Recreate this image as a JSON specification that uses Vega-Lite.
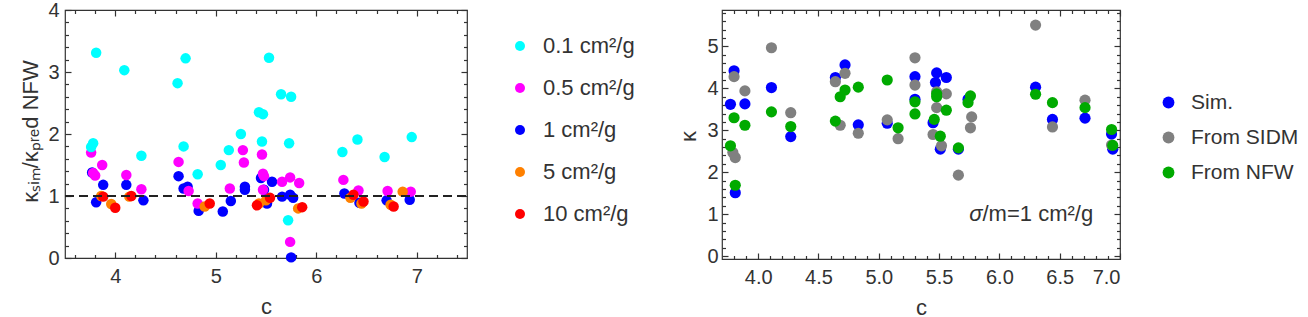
{
  "$schema": "https://vega.github.io/schema/vega-lite/v6.json",
  "background": "white",
  "padding": {"left": 18, "top": -1, "right": 0, "bottom": 0},
  "config": {
    "font": "Liberation Sans",
    "view": {"stroke": "#333", "strokeWidth": 1.2},
    "axis": {"labelFontSize": 20, "labelColor": "#333", "titleFontSize": 22, "titleColor": "#333", "titleFontWeight": "normal", "grid": false, "domain": false, "tickColor": "#333", "tickWidth": 1.2},
    "legend": {"labelFontSize": 21, "labelColor": "#333"}
  },
  "datasets": {
    "left": [
      {"c":3.77,"r":1.38,"s":"1 cm²/g"},{"c":3.81,"r":0.90,"s":"1 cm²/g"},{"c":3.88,"r":1.18,"s":"1 cm²/g"},{"c":4.11,"r":1.18,"s":"1 cm²/g"},{"c":4.28,"r":0.93,"s":"1 cm²/g"},{"c":4.63,"r":1.32,"s":"1 cm²/g"},{"c":4.68,"r":1.12,"s":"1 cm²/g"},{"c":4.72,"r":1.15,"s":"1 cm²/g"},{"c":4.83,"r":0.76,"s":"1 cm²/g"},{"c":5.07,"r":0.75,"s":"1 cm²/g"},{"c":5.15,"r":0.92,"s":"1 cm²/g"},{"c":5.29,"r":1.15,"s":"1 cm²/g"},{"c":5.29,"r":1.10,"s":"1 cm²/g"},{"c":5.45,"r":1.29,"s":"1 cm²/g"},{"c":5.48,"r":1.10,"s":"1 cm²/g"},{"c":5.51,"r":0.88,"s":"1 cm²/g"},{"c":5.56,"r":1.23,"s":"1 cm²/g"},{"c":5.66,"r":0.99,"s":"1 cm²/g"},{"c":5.74,"r":1.02,"s":"1 cm²/g"},{"c":5.77,"r":0.97,"s":"1 cm²/g"},{"c":5.75,"r":0.01,"s":"1 cm²/g"},{"c":6.28,"r":1.04,"s":"1 cm²/g"},{"c":6.43,"r":0.89,"s":"1 cm²/g"},{"c":6.70,"r":0.93,"s":"1 cm²/g"},{"c":6.93,"r":0.94,"s":"1 cm²/g"},
      {"c":3.76,"r":1.70,"s":"0.5 cm²/g"},{"c":3.78,"r":1.37,"s":"0.5 cm²/g"},{"c":3.80,"r":1.33,"s":"0.5 cm²/g"},{"c":3.87,"r":1.50,"s":"0.5 cm²/g"},{"c":4.11,"r":1.34,"s":"0.5 cm²/g"},{"c":4.26,"r":1.11,"s":"0.5 cm²/g"},{"c":4.63,"r":1.55,"s":"0.5 cm²/g"},{"c":4.73,"r":1.08,"s":"0.5 cm²/g"},{"c":4.82,"r":0.88,"s":"0.5 cm²/g"},{"c":5.14,"r":1.12,"s":"0.5 cm²/g"},{"c":5.27,"r":1.74,"s":"0.5 cm²/g"},{"c":5.28,"r":1.54,"s":"0.5 cm²/g"},{"c":5.46,"r":1.67,"s":"0.5 cm²/g"},{"c":5.47,"r":1.36,"s":"0.5 cm²/g"},{"c":5.48,"r":1.32,"s":"0.5 cm²/g"},{"c":5.47,"r":1.10,"s":"0.5 cm²/g"},{"c":5.66,"r":1.23,"s":"0.5 cm²/g"},{"c":5.74,"r":1.30,"s":"0.5 cm²/g"},{"c":5.83,"r":1.21,"s":"0.5 cm²/g"},{"c":5.74,"r":0.26,"s":"0.5 cm²/g"},{"c":6.27,"r":1.26,"s":"0.5 cm²/g"},{"c":6.42,"r":1.09,"s":"0.5 cm²/g"},{"c":6.71,"r":1.08,"s":"0.5 cm²/g"},{"c":6.94,"r":1.07,"s":"0.5 cm²/g"},
      {"c":3.76,"r":1.79,"s":"0.1 cm²/g"},{"c":3.78,"r":1.85,"s":"0.1 cm²/g"},{"c":3.81,"r":3.31,"s":"0.1 cm²/g"},{"c":4.09,"r":3.03,"s":"0.1 cm²/g"},{"c":4.26,"r":1.65,"s":"0.1 cm²/g"},{"c":4.62,"r":2.82,"s":"0.1 cm²/g"},{"c":4.68,"r":1.80,"s":"0.1 cm²/g"},{"c":4.70,"r":3.22,"s":"0.1 cm²/g"},{"c":4.82,"r":1.35,"s":"0.1 cm²/g"},{"c":5.05,"r":1.50,"s":"0.1 cm²/g"},{"c":5.13,"r":1.74,"s":"0.1 cm²/g"},{"c":5.25,"r":2.00,"s":"0.1 cm²/g"},{"c":5.43,"r":2.35,"s":"0.1 cm²/g"},{"c":5.46,"r":1.88,"s":"0.1 cm²/g"},{"c":5.47,"r":2.32,"s":"0.1 cm²/g"},{"c":5.53,"r":3.23,"s":"0.1 cm²/g"},{"c":5.65,"r":2.64,"s":"0.1 cm²/g"},{"c":5.72,"r":0.61,"s":"0.1 cm²/g"},{"c":5.73,"r":1.85,"s":"0.1 cm²/g"},{"c":5.75,"r":2.60,"s":"0.1 cm²/g"},{"c":6.26,"r":1.71,"s":"0.1 cm²/g"},{"c":6.41,"r":1.91,"s":"0.1 cm²/g"},{"c":6.68,"r":1.63,"s":"0.1 cm²/g"},{"c":6.95,"r":1.95,"s":"0.1 cm²/g"},
      {"c":3.86,"r":1.00,"s":"5 cm²/g"},{"c":3.96,"r":0.87,"s":"5 cm²/g"},{"c":4.14,"r":0.99,"s":"5 cm²/g"},{"c":4.89,"r":0.83,"s":"5 cm²/g"},{"c":5.43,"r":0.88,"s":"5 cm²/g"},{"c":5.50,"r":0.93,"s":"5 cm²/g"},{"c":5.82,"r":0.80,"s":"5 cm²/g"},{"c":6.34,"r":0.97,"s":"5 cm²/g"},{"c":6.45,"r":0.88,"s":"5 cm²/g"},{"c":6.74,"r":0.86,"s":"5 cm²/g"},{"c":6.86,"r":1.07,"s":"5 cm²/g"},
      {"c":3.88,"r":0.99,"s":"10 cm²/g"},{"c":4.00,"r":0.81,"s":"10 cm²/g"},{"c":4.16,"r":1.00,"s":"10 cm²/g"},{"c":4.94,"r":0.88,"s":"10 cm²/g"},{"c":5.41,"r":0.85,"s":"10 cm²/g"},{"c":5.54,"r":0.97,"s":"10 cm²/g"},{"c":5.86,"r":0.82,"s":"10 cm²/g"},{"c":6.37,"r":1.02,"s":"10 cm²/g"},{"c":6.47,"r":0.91,"s":"10 cm²/g"},{"c":6.77,"r":0.83,"s":"10 cm²/g"}
    ],
    "right": [
      {"c":3.77,"k":3.62,"s":"Sim."},{"c":3.80,"k":4.42,"s":"Sim."},{"c":3.81,"k":1.51,"s":"Sim."},{"c":3.89,"k":3.63,"s":"Sim."},{"c":4.11,"k":4.02,"s":"Sim."},{"c":4.27,"k":2.85,"s":"Sim."},{"c":4.64,"k":4.26,"s":"Sim."},{"c":4.72,"k":4.56,"s":"Sim."},{"c":4.83,"k":3.13,"s":"Sim."},{"c":5.07,"k":3.17,"s":"Sim."},{"c":5.30,"k":4.28,"s":"Sim."},{"c":5.30,"k":3.74,"s":"Sim."},{"c":5.45,"k":3.18,"s":"Sim."},{"c":5.48,"k":4.37,"s":"Sim."},{"c":5.47,"k":4.14,"s":"Sim."},{"c":5.51,"k":2.55,"s":"Sim."},{"c":5.56,"k":4.26,"s":"Sim."},{"c":5.66,"k":2.55,"s":"Sim."},{"c":5.74,"k":3.74,"s":"Sim."},{"c":6.30,"k":4.03,"s":"Sim."},{"c":6.44,"k":3.26,"s":"Sim."},{"c":6.71,"k":3.29,"s":"Sim."},{"c":6.93,"k":2.91,"s":"Sim."},{"c":6.94,"k":2.55,"s":"Sim."},
      {"c":3.79,"k":2.47,"s":"From SIDM"},{"c":3.80,"k":4.28,"s":"From SIDM"},{"c":3.81,"k":2.35,"s":"From SIDM"},{"c":3.89,"k":3.94,"s":"From SIDM"},{"c":4.11,"k":4.97,"s":"From SIDM"},{"c":4.27,"k":3.42,"s":"From SIDM"},{"c":4.64,"k":4.16,"s":"From SIDM"},{"c":4.68,"k":3.12,"s":"From SIDM"},{"c":4.72,"k":4.36,"s":"From SIDM"},{"c":4.83,"k":2.93,"s":"From SIDM"},{"c":5.07,"k":3.25,"s":"From SIDM"},{"c":5.16,"k":2.80,"s":"From SIDM"},{"c":5.30,"k":4.73,"s":"From SIDM"},{"c":5.30,"k":4.08,"s":"From SIDM"},{"c":5.45,"k":2.90,"s":"From SIDM"},{"c":5.48,"k":3.54,"s":"From SIDM"},{"c":5.48,"k":3.92,"s":"From SIDM"},{"c":5.52,"k":2.63,"s":"From SIDM"},{"c":5.56,"k":3.87,"s":"From SIDM"},{"c":5.66,"k":1.93,"s":"From SIDM"},{"c":5.77,"k":3.32,"s":"From SIDM"},{"c":5.76,"k":3.06,"s":"From SIDM"},{"c":6.30,"k":5.51,"s":"From SIDM"},{"c":6.44,"k":3.08,"s":"From SIDM"},{"c":6.71,"k":3.72,"s":"From SIDM"},{"c":6.93,"k":2.65,"s":"From SIDM"},
      {"c":3.77,"k":2.63,"s":"From NFW"},{"c":3.80,"k":3.30,"s":"From NFW"},{"c":3.81,"k":1.69,"s":"From NFW"},{"c":3.89,"k":3.12,"s":"From NFW"},{"c":4.11,"k":3.44,"s":"From NFW"},{"c":4.27,"k":3.09,"s":"From NFW"},{"c":4.64,"k":3.22,"s":"From NFW"},{"c":4.68,"k":3.80,"s":"From NFW"},{"c":4.72,"k":3.96,"s":"From NFW"},{"c":4.83,"k":4.03,"s":"From NFW"},{"c":5.07,"k":4.20,"s":"From NFW"},{"c":5.16,"k":3.06,"s":"From NFW"},{"c":5.30,"k":3.68,"s":"From NFW"},{"c":5.30,"k":3.39,"s":"From NFW"},{"c":5.46,"k":3.26,"s":"From NFW"},{"c":5.48,"k":3.87,"s":"From NFW"},{"c":5.48,"k":3.80,"s":"From NFW"},{"c":5.51,"k":2.86,"s":"From NFW"},{"c":5.56,"k":3.48,"s":"From NFW"},{"c":5.66,"k":2.58,"s":"From NFW"},{"c":5.76,"k":3.82,"s":"From NFW"},{"c":5.74,"k":3.66,"s":"From NFW"},{"c":6.30,"k":3.86,"s":"From NFW"},{"c":6.44,"k":3.66,"s":"From NFW"},{"c":6.71,"k":3.54,"s":"From NFW"},{"c":6.93,"k":3.02,"s":"From NFW"},{"c":6.94,"k":2.64,"s":"From NFW"}
    ]
  },
  "spacing": 40,
  "resolve": {"scale": {"color": "independent"}, "legend": {"color": "independent"}},
  "hconcat": [
    {
      "width": 402,
      "height": 248,
      "view": {"stroke": "#333", "strokeWidth": 1.2},
      "layer": [
        {
          "data": {"name": "left"},
          "mark": {"type": "circle", "size": 110, "opacity": 1},
          "encoding": {
            "x": {"field": "c", "type": "quantitative", "scale": {"domain": [3.5, 7.5], "nice": false, "zero": false},
              "axis": {"orient": "bottom", "values": [4, 5, 6, 7], "tickSize": -6, "labelPadding": 14, "title": "c", "titlePadding": 10}},
            "y": {"field": "r", "type": "quantitative", "scale": {"domain": [0, 4], "nice": false},
              "axis": {"orient": "left", "values": [0, 1, 2, 3, 4], "tickSize": -6, "labelPadding": 12, "title": "κₛᵢₘ/κₚᵣₑd NFW", "titleX": -35, "titleY": 121, "titleAngle": 270, "titleAlign": "center", "titleBaseline": "middle"}},
            "color": {"field": "s", "type": "nominal",
              "scale": {"domain": ["0.1 cm²/g", "0.5 cm²/g", "1 cm²/g", "5 cm²/g", "10 cm²/g"], "range": ["#00FFFF", "#FF00FF", "#0000FF", "#FF8000", "#FF0000"]},
              "legend": {"title": null, "orient": "none", "legendX": 444, "legendY": 25, "symbolType": "circle", "symbolSize": 100, "symbolStrokeWidth": 0, "rowPadding": 20, "labelOffset": 12, "labelFontSize": 22}}
          }
        },
        {
          "data": {"values": [{}]},
          "mark": {"type": "rule", "strokeDash": [9, 5], "strokeWidth": 2, "color": "#222"},
          "encoding": {
            "x": {"datum": 3.5, "type": "quantitative", "axis": {"orient": "top", "values": [4, 5, 6, 7], "tickSize": -6, "labels": false, "title": null}},
            "x2": {"datum": 7.5},
            "y": {"datum": 1, "type": "quantitative", "axis": {"orient": "right", "values": [0, 1, 2, 3, 4], "tickSize": -6, "labels": false, "title": null}}
          }
        },
        {
          "data": {"values": [{}]},
          "mark": {"type": "text", "text": ""},
          "encoding": {
            "x": {"datum": 4, "type": "quantitative", "axis": {"orient": "bottom", "values": [3.6,3.8,4.2,4.4,4.6,4.8,5.2,5.4,5.6,5.8,6.2,6.4,6.6,6.8,7.2,7.4], "tickSize": -3.5, "labels": false, "title": null}},
            "y": {"datum": 1, "type": "quantitative", "axis": {"orient": "left", "values": [0.2,0.4,0.6,0.8,1.2,1.4,1.6,1.8,2.2,2.4,2.6,2.8,3.2,3.4,3.6,3.8], "tickSize": -3.5, "labels": false, "title": null}}
          }
        },
        {
          "data": {"values": [{}]},
          "mark": {"type": "text", "text": ""},
          "encoding": {
            "x": {"datum": 4, "type": "quantitative", "axis": {"orient": "top", "values": [3.6,3.8,4.2,4.4,4.6,4.8,5.2,5.4,5.6,5.8,6.2,6.4,6.6,6.8,7.2,7.4], "tickSize": -3.5, "labels": false, "title": null}},
            "y": {"datum": 1, "type": "quantitative", "axis": {"orient": "right", "values": [0.2,0.4,0.6,0.8,1.2,1.4,1.6,1.8,2.2,2.4,2.6,2.8,3.2,3.4,3.6,3.8], "tickSize": -3.5, "labels": false, "title": null}}
          }
        }
      ],
      "resolve": {"axis": {"x": "independent", "y": "independent"}}
    },
    {
      "width": 398,
      "height": 249,
      "view": {"stroke": "#333", "strokeWidth": 1.2},
      "layer": [
        {
          "data": {"name": "right"},
          "mark": {"type": "circle", "size": 125, "opacity": 1},
          "encoding": {
            "x": {"field": "c", "type": "quantitative", "scale": {"domain": [3.7, 7.0], "nice": false, "zero": false},
              "axis": {"orient": "bottom", "values": [4, 4.5, 5, 5.5, 6, 6.5, 7], "format": ".1f", "tickSize": -6, "labelPadding": 14, "title": "c", "titlePadding": 10}},
            "y": {"field": "k", "type": "quantitative", "scale": {"domain": [-0.07, 5.87], "nice": false, "zero": false},
              "axis": {"orient": "left", "values": [0, 1, 2, 3, 4, 5], "tickSize": -6, "labelPadding": 10, "title": "κ", "titleX": -34, "titleY": 126, "titleAngle": 270, "titleAlign": "center", "titleBaseline": "middle"}},
            "color": {"field": "s", "type": "nominal",
              "scale": {"domain": ["Sim.", "From SIDM", "From NFW"], "range": ["#0000FF", "#808080", "#00AA00"]},
              "legend": {"title": null, "orient": "none", "legendX": 436, "legendY": 82, "symbolType": "circle", "symbolSize": 140, "symbolStrokeWidth": 0, "rowPadding": 13, "labelOffset": 12}}
          }
        },
        {
          "data": {"values": [{}]},
          "mark": {"type": "text", "text": "σ", "fontStyle": "italic", "fontSize": 22, "align": "right", "baseline": "middle", "color": "#333"},
          "encoding": {
            "x": {"datum": 5.86, "type": "quantitative", "axis": {"orient": "top", "values": [4, 4.5, 5, 5.5, 6, 6.5, 7], "tickSize": -6, "labels": false, "title": null}},
            "y": {"datum": 1.0, "type": "quantitative", "axis": {"orient": "right", "values": [0, 1, 2, 3, 4, 5], "tickSize": -6, "labels": false, "title": null}}
          }
        },
        {
          "data": {"values": [{}]},
          "mark": {"type": "text", "text": "/m=1 cm²/g", "fontSize": 22, "align": "left", "baseline": "middle", "color": "#333"},
          "encoding": {
            "x": {"datum": 5.86, "type": "quantitative", "axis": {"orient": "bottom", "values": [3.8,3.9,4.1,4.2,4.3,4.4,4.6,4.7,4.8,4.9,5.1,5.2,5.3,5.4,5.6,5.7,5.8,5.9,6.1,6.2,6.3,6.4,6.6,6.7,6.8,6.9], "tickSize": -3.5, "labels": false, "title": null}},
            "y": {"datum": 1.0, "type": "quantitative", "axis": {"orient": "left", "values": [0.2,0.4,0.6,0.8,1.2,1.4,1.6,1.8,2.2,2.4,2.6,2.8,3.2,3.4,3.6,3.8,4.2,4.4,4.6,4.8,5.2,5.4,5.6,5.8], "tickSize": -3.5, "labels": false, "title": null}}
          }
        },
        {
          "data": {"values": [{}]},
          "mark": {"type": "text", "text": ""},
          "encoding": {
            "x": {"datum": 5, "type": "quantitative", "axis": {"orient": "top", "values": [3.8,3.9,4.1,4.2,4.3,4.4,4.6,4.7,4.8,4.9,5.1,5.2,5.3,5.4,5.6,5.7,5.8,5.9,6.1,6.2,6.3,6.4,6.6,6.7,6.8,6.9], "tickSize": -3.5, "labels": false, "title": null}},
            "y": {"datum": 1, "type": "quantitative", "axis": {"orient": "right", "values": [0.2,0.4,0.6,0.8,1.2,1.4,1.6,1.8,2.2,2.4,2.6,2.8,3.2,3.4,3.6,3.8,4.2,4.4,4.6,4.8,5.2,5.4,5.6,5.8], "tickSize": -3.5, "labels": false, "title": null}}
          }
        }
      ],
      "resolve": {"axis": {"x": "independent", "y": "independent"}}
    }
  ]
}
